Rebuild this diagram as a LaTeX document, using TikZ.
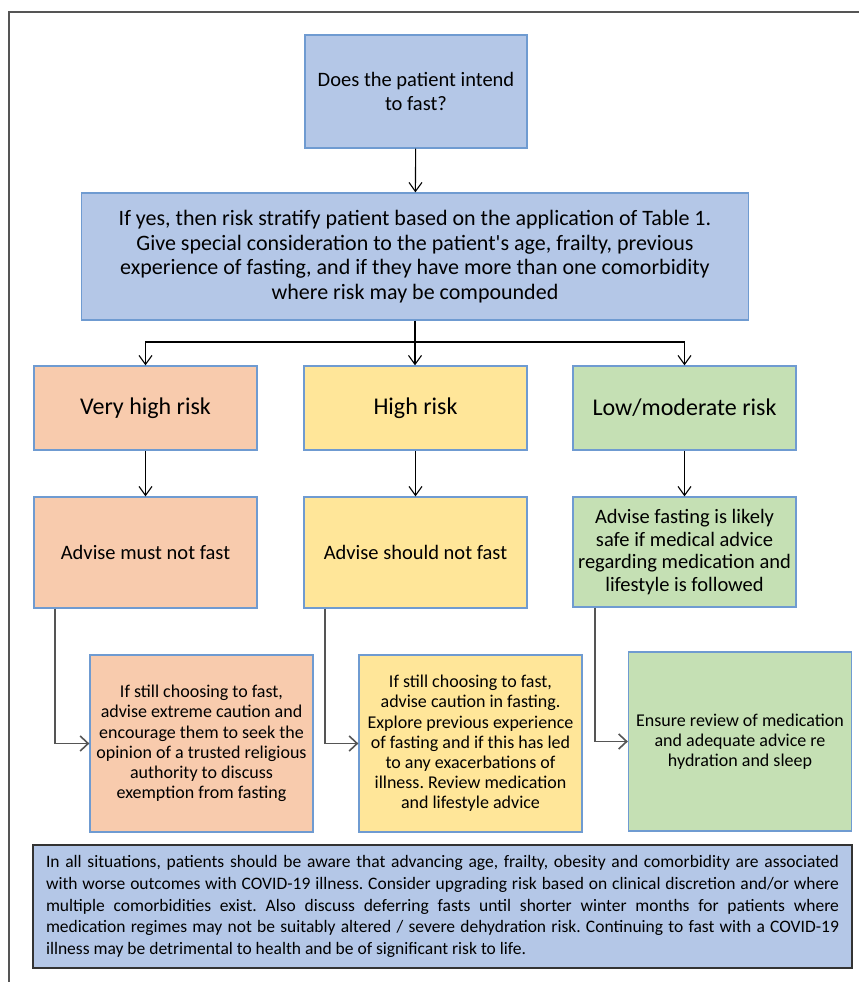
\documentclass[tikz,border=0pt]{standalone}
\usepackage{fontspec}
\setmainfont{Carlito}[Ligatures=TeXOff]
\usetikzlibrary{arrows.meta,calc}

\definecolor{fillblue}{HTML}{B4C7E7}
\definecolor{fillorange}{HTML}{F8CBAD}
\definecolor{fillyellow}{HTML}{FFE699}
\definecolor{fillgreen}{HTML}{C5E0B4}
\definecolor{edgeblue}{HTML}{6F9BD1}
\definecolor{framegray}{HTML}{555555}

\begin{document}
\frenchspacing
\begin{tikzpicture}[x=1pt,y=-1pt,
    box/.style={draw=edgeblue, line width=1.3pt, align=center, inner xsep=1pt,
                minimum width=223pt},
    arr/.style={line width=1.1pt, -{Straight Barb[length=9pt,width=13pt,line width=1.1pt]}},
    elbow/.style={draw=framegray, line width=1.8pt, -{Straight Barb[length=8pt,width=15pt,line width=1.6pt]}},
    qfont/.style={font=\fontsize{20.5}{23.5}\selectfont},
    bigfont/.style={font=\fontsize{22}{24.7}\selectfont},
    riskfont/.style={font=\fontsize{24}{28}\selectfont},
    advfont/.style={font=\fontsize{20.5}{22.7}\selectfont},
    smallfont/.style={font=\fontsize{18}{20.2}\selectfont}]
    \useasboundingbox (0,0) rectangle (859,982);
    \draw[framegray, line width=1.5pt] (9,982) -- (9,12) -- (859,12);

    % question and stratification
    \node[box, fill=fillblue, qfont, minimum width=222pt, minimum height=113pt] (q) at (416,91.5)
        {Does the patient intend\\to fast?};
    \node[box, fill=fillblue, bigfont, minimum width=667pt, minimum height=127pt] (strat) at (415,256.5)
        {If yes, then risk stratify patient based on the application of Table 1.\\
         Give special consideration to the patient's age, frailty, previous\\
         experience of fasting, and if they have more than one comorbidity\\
         where risk may be compounded};

    % risk levels
    \node[box, fill=fillorange, riskfont, minimum height=84pt] (vhr) at (145.5,408) {Very high risk};
    \node[box, fill=fillyellow, riskfont, minimum height=84pt] (hr) at (415.5,408) {High risk};
    \node[box, fill=fillgreen, riskfont, minimum height=84pt] (lr) at (684.5,408) {Low/moderate risk};

    % advice
    \node[box, fill=fillorange, advfont, minimum height=111pt] (vha) at (145.5,552.5) {Advise must not fast};
    \node[box, fill=fillyellow, advfont, minimum height=111pt] (hra) at (415.5,552.5) {Advise should not fast};
    \node[box, fill=fillgreen, advfont, minimum height=110pt] (lra) at (684.5,552)
        {Advise fasting is likely\\safe if medical advice\\regarding medication and\\lifestyle is followed};

    % if still choosing to fast
    \node[box, fill=fillorange, smallfont, minimum height=177pt] (vhc) at (201.5,743.5)
        {If still choosing to fast,\\advise extreme caution and\\encourage them to seek the\\opinion of a trusted religious\\authority to discuss\\exemption from fasting};
    \node[box, fill=fillyellow, smallfont, minimum height=177pt] (hrc) at (470.5,743.5)
        {If still choosing to fast,\\advise caution in fasting.\\Explore previous experience\\of fasting and if this has led\\to any exacerbations of\\illness. Review medication\\and lifestyle advice};
    \node[box, fill=fillgreen, smallfont, minimum height=179pt] (lrc) at (740,741.5)
        {Ensure review of medication\\and adequate advice re\\hydration and sleep};

    % note
    \node[draw=black!80, line width=1.8pt, fill=fillblue, minimum width=819pt, minimum height=123pt,
          text width=793pt, align=justify, font=\fontsize{17.5}{21.7}\selectfont] (note) at (442.5,906.5)
        {In all situations, patients should be aware that advancing age, frailty, obesity and comorbidity are associated\linebreak
         with worse outcomes with COVID-19 illness. Consider upgrading risk based on clinical discretion and/or where\linebreak
         multiple comorbidities exist. Also discuss deferring fasts until shorter winter months for patients where\linebreak
         medication regimes may not be suitably altered / severe dehydration risk. Continuing to fast with a COVID-19\linebreak
         illness may be detrimental to health and be of significant risk to life.};

    % connectors
    \draw[arr] (q) -- (strat);
    \coordinate (split) at (415,342);
    \draw[line width=1.1pt] (strat) -- (split);
    \draw[arr] (split) -| (vhr.north);
    \draw[arr] (split) -- (split |- hr.north);
    \draw[arr] (split) -| (lr.north);
    \draw[arr] (vhr) -- (vha);
    \draw[arr] (hr) -- (hra);
    \draw[arr] (lr) -- (lra);
    \draw[elbow] ([xshift=22pt]vha.south west) |- (vhc.west);
    \draw[elbow] ([xshift=22pt]hra.south west) |- (hrc.west);
    \draw[elbow] ([xshift=23pt]lra.south west) |- (lrc.west);
\end{tikzpicture}
\end{document}
